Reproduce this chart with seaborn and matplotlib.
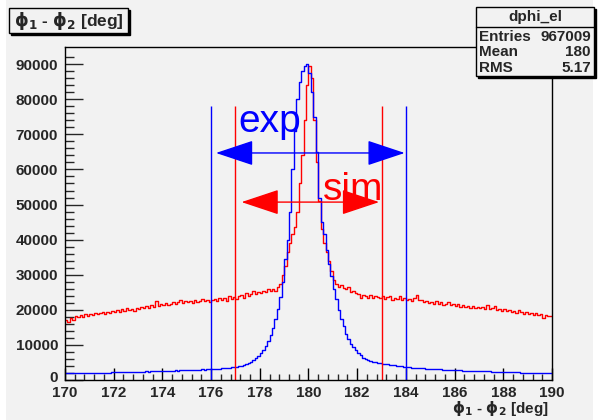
import numpy as np
import pandas as pd
import matplotlib
matplotlib.use("Agg")
import matplotlib.pyplot as plt
from matplotlib.patches import Rectangle
from matplotlib.lines import Line2D
from matplotlib.transforms import ScaledTranslation
import seaborn as sns

# ---------------- data ----------------
bin_lo, bin_hi, n_bins = 170.0, 190.0, 200

blue_counts = [
    2000, 1950, 2050, 2000, 1900, 2000, 2050, 1950, 2000, 2100,
    2000, 2050, 1950, 2100, 2000, 2050, 2100, 2000, 2050, 2150,
    2150, 2200, 2150, 2250, 2200, 2150, 2250, 2300, 2250, 2300,
    2350, 2400, 2350, 2450, 2400, 2500, 2450, 2550, 2500, 2600,
    2650, 2600, 2700, 2650, 2700, 2750, 2700, 2800, 2750, 2850,
    2800, 2850, 2900, 2850, 2950, 2900, 3000, 2950, 3050, 3000,
    3100, 3150, 3200, 3250, 3300, 3350, 3450, 3500, 3600, 3700,
    3800, 3900, 4050, 4250, 4500, 4800, 5200, 5700, 6200, 6900,
    7600, 8500, 9600, 11000, 12700, 14800, 17300, 20200, 23600, 27800,
    34500, 40000, 48000, 60000, 71000, 80000, 85000, 88000, 89500, 90000,
    87500, 82000, 75000, 65000, 52000, 45000, 41500, 37000, 33000, 29500,
    26000, 23000, 20000, 17500, 15300, 13200, 11800, 10400, 9300, 8500,
    7800, 7000, 6400, 6000, 5700, 5450, 5250, 5100, 4950, 4800,
    4650, 4550, 4450, 4350, 4250, 4150, 4050, 3950, 3850, 3800,
    3700, 3650, 3550, 3500, 3450, 3400, 3350, 3300, 3250, 3200,
    3150, 3100, 3050, 3000, 3000, 2950, 2900, 2900, 2850, 2850,
    2800, 2750, 2750, 2700, 2700, 2650, 2650, 2600, 2600, 2550,
    2550, 2500, 2500, 2450, 2450, 2400, 2400, 2350, 2350, 2300,
    2300, 2250, 2250, 2200, 2200, 2150, 2150, 2100, 2100, 2100,
    2050, 2050, 2000, 2050, 2000, 2000, 1950, 2000, 2000, 1950,
]

red_counts = [
    17000, 16500, 17800, 17200, 18200, 17900, 18500, 18000, 18700, 18300,
    18800, 18400, 19200, 18700, 19000, 19500, 18900, 19300, 19100, 19600,
    19400, 19900, 19300, 20100, 19700, 20400, 19900, 20300, 19800, 20600,
    20200, 20800, 20400, 21000, 20600, 21400, 20900, 22600, 21200, 21600,
    21300, 22000, 21500, 21800, 22300, 21700, 22100, 22700, 21900, 22400,
    22100, 22600, 22000, 22900, 22300, 22500, 23000, 22400, 22800, 22300,
    22700, 23200, 22500, 23500, 22900, 23300, 22600, 23800, 23100, 23600,
    23200, 23800, 24300, 23500, 24800, 23900, 24500, 25300, 24600, 25100,
    24800, 25500, 25000, 25900, 25400, 26000, 25500, 26500, 27500, 30000,
    32500, 36500, 39000, 41500, 43500, 48000, 56000, 64000, 74000, 84000,
    89500, 86000, 74000, 62000, 51000, 43000, 39000, 36500, 34000, 31000,
    28500, 27500, 26500, 27000, 26200, 25800, 26400, 25200, 25500, 24800,
    24600, 23400, 24200, 23800, 23500, 24100, 23300, 23900, 23600, 23400,
    23800, 23200, 23600, 24000, 22900, 23500, 23100, 23800, 22700, 23300,
    22800, 23100, 22500, 23300, 24200, 22700, 22900, 22200, 22600, 22000,
    22300, 21800, 22500, 21600, 22100, 21300, 21800, 22200, 21400, 21700,
    21200, 21600, 20900, 21400, 20700, 21100, 20600, 21200, 20500, 20900,
    20400, 20800, 20200, 21400, 20100, 20600, 21000, 19900, 20300, 19800,
    20200, 19600, 19900, 19300, 19700, 19100, 20000, 19400, 18900, 19300,
    18800, 19200, 18600, 19000, 18400, 18800, 17700, 18500, 18100, 18300,
]

exp_window = [176, 184]
sim_window = [177, 183]
window_top = 78000

x_ticks = [170, 172, 174, 176, 178, 180, 182, 184, 186, 188, 190]
y_ticks = [0, 10000, 20000, 30000, 40000, 50000, 60000, 70000, 80000, 90000]

title_text = r"$\phi_{1}$ - $\phi_{2}$ [deg]"
stats_title = "dphi_el"
stats_rows = [("Entries", "967009"), ("Mean", "180"), ("RMS", "5.17")]

# ---------------- style ----------------
sns.set_style("ticks")
plt.rcParams["font.family"] = ["Liberation Sans", "DejaVu Sans"]
plt.rcParams["mathtext.fontset"] = "custom"
plt.rcParams["mathtext.rm"] = "DejaVu Sans:bold"
plt.rcParams["mathtext.it"] = "DejaVu Sans:bold"
plt.rcParams["mathtext.bf"] = "DejaVu Sans:bold"
plt.rcParams["mathtext.default"] = "rm"

W, H = 605, 420
BG = "#f2f2f2"
fig = plt.figure(figsize=(W / 100, H / 100), dpi=100)
fig.patch.set_facecolor("white")

def fx(px):
    return px / W

def fy(py):
    return 1 - py / H

# gray canvas area
fig.patches.append(Rectangle((fx(6), 0), fx(593) - fx(6), 1, transform=fig.transFigure,
                             facecolor=BG, edgecolor="none", zorder=-10))

L, R, T, B = 65, 552, 47, 380
ax = fig.add_axes([fx(L), fy(B), fx(R) - fx(L), fy(T) - fy(B)])
ax.set_facecolor(BG)

binw = (bin_hi - bin_lo) / n_bins
centers = bin_lo + binw * (np.arange(n_bins) + 0.5)
df = pd.DataFrame({"x": centers, "red": red_counts, "blue": blue_counts})

sns.histplot(data=df, x="x", weights="red", binwidth=binw, binrange=(bin_lo, bin_hi),
             element="step", fill=False, color="red", linewidth=1.0, ax=ax)
sns.histplot(data=df, x="x", weights="blue", binwidth=binw, binrange=(bin_lo, bin_hi),
             element="step", fill=False, color="blue", linewidth=1.0, ax=ax)

ax.vlines(exp_window, 0, window_top, colors="blue", linewidth=1.0)
ax.vlines(sim_window, 0, window_top, colors="red", linewidth=1.0)

arrow_kw = dict(arrowstyle="<|-|>,head_length=2.4,head_width=0.8", mutation_scale=10,
                lw=1.0, shrinkA=0, shrinkB=0)
ax.annotate("", xy=(176.2, 64700), xytext=(183.95, 64700),
            arrowprops=dict(color="blue", **arrow_kw))
ax.annotate("", xy=(177.25, 50700), xytext=(182.9, 50700),
            arrowprops=dict(color="red", **arrow_kw))
ax.text(177.1, 70600, "exp", color="blue", fontsize=28, va="baseline", ha="left")
ax.text(180.58, 51300, "sim", color="red", fontsize=28, va="baseline", ha="left")

ax.set_xlim(170, 190)
ax.set_ylim(0, 94900)
ax.set_xticks(x_ticks)
ax.set_yticks(y_ticks)
ax.set_xticklabels([str(t) for t in x_ticks])
ax.set_yticklabels([str(t) for t in y_ticks])
ax.set_xticks(np.arange(170, 190.01, 0.4), minor=True)
ax.set_yticks(np.arange(0, 94000, 2000), minor=True)
ax.set_xlabel("")
ax.set_ylabel("")
for lab in ax.get_xticklabels() + ax.get_yticklabels():
    lab.set_fontweight("bold")
    lab.set_fontsize(11)
ax.tick_params(axis="x", which="major", direction="in", length=9, width=1, pad=4,
               top=False, color="black")
ax.tick_params(axis="x", which="minor", direction="in", length=4.5, width=1, top=False)
ax.tick_params(axis="y", which="major", direction="in", length=13, width=1, pad=5,
               right=False)
ax.tick_params(axis="y", which="minor", direction="in", length=6.5, width=1, right=False)
for s in ax.spines.values():
    s.set_visible(True)
    s.set_color("black")
    s.set_linewidth(1.0)

# nudge the "0" label up a little so it does not collide with "170"
zero_lab = ax.get_yticklabels()[0]
zero_lab.set_transform(zero_lab.get_transform() + ScaledTranslation(0, 3 / 100, fig.dpi_scale_trans))

# x axis title
fig.text(fx(549), fy(409), title_text, ha="right", va="center", fontsize=11,
         fontweight="bold")

def pave(x0, y0, x1, y1):
    fig.patches.append(Rectangle((fx(x0 + 2), fy(y1 + 2)), fx(x1) - fx(x0), fy(y0) - fy(y1),
                                 transform=fig.transFigure, facecolor="black",
                                 edgecolor="black", lw=1, zorder=5))
    fig.patches.append(Rectangle((fx(x0), fy(y1)), fx(x1) - fx(x0), fy(y0) - fy(y1),
                                 transform=fig.transFigure, facecolor=BG,
                                 edgecolor="black", lw=1, zorder=6))

# title box
pave(9, 8, 128, 33)
fig.text(fx(68.5), fy(21), title_text, ha="center", va="center", fontsize=12.5,
         fontweight="bold", zorder=7)

# stats box
pave(476, 7, 594, 76)
fig.lines.append(Line2D([fx(476), fx(594)], [fy(27), fy(27)], transform=fig.transFigure,
                        color="black", lw=1, zorder=7))
fig.text(fx(535), fy(17), stats_title, ha="center", va="center", fontsize=11,
         fontweight="bold", zorder=7)
for i, (k, v) in enumerate(stats_rows):
    yy = 37 + 15.5 * i
    fig.text(fx(479), fy(yy), k, ha="left", va="center", fontsize=11, fontweight="bold",
             zorder=7)
    fig.text(fx(591), fy(yy), v, ha="right", va="center", fontsize=11, fontweight="bold",
             zorder=7)

fig.savefig("out.png", dpi=100, facecolor=fig.get_facecolor())
